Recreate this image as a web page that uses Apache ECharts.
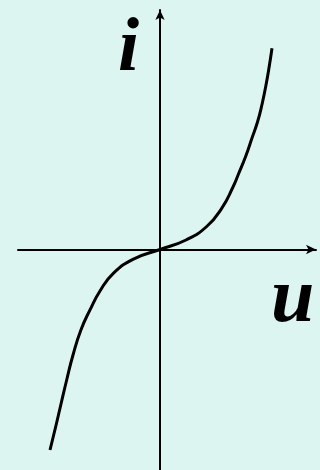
<!DOCTYPE html>
<html>
<head>
<meta charset="utf-8">
<script src="https://cdn.jsdelivr.net/npm/echarts@6/dist/echarts.min.js"></script>
<style>
  html, body { margin: 0; padding: 0; background: #ddf5f1; }
  #chart { width: 320px; height: 470px; }
</style>
</head>
<body>
<div id="chart"></div>
<script>
// u-i characteristic (arbitrary units)
var uValues = [-1.10, -1.045, -0.99, -0.932, -0.87, -0.79, -0.70, -0.60, -0.467, -0.26, 0,
               0.26, 0.467, 0.62, 0.73, 0.783, 0.86, 0.92, 0.975, 1.02, 1.06, 1.093, 1.12];
var iValues = [-2.005, -1.78, -1.545, -1.30, -1.055, -0.803, -0.604, -0.415, -0.238, -0.093, 0,
               0.095, 0.23, 0.417, 0.625, 0.75, 0.94, 1.115, 1.275, 1.45, 1.645, 1.835, 2.012];
var axisNames = ['u', 'i'];

var points = uValues.map(function (u, k) { return [u, iValues[k]]; });

var chart = echarts.init(document.getElementById('chart'), null, { renderer: 'canvas' });
chart.setOption({
    backgroundColor: '#ddf5f1',
    animation: false,
    grid: { left: 18, right: 4, top: 10, bottom: 0 },
    xAxis: {
        type: 'value',
        min: -1.42,
        max: 1.56,
        axisLine: {
            onZero: true,
            symbol: ['none', 'arrow'],
            symbolSize: [7, 10],
            lineStyle: { color: '#000', width: 2 }
        },
        axisTick: { show: false },
        axisLabel: { show: false },
        splitLine: { show: false }
    },
    yAxis: {
        type: 'value',
        min: -2.205,
        max: 2.395,
        axisLine: {
            onZero: true,
            symbol: ['none', 'arrow'],
            symbolSize: [7, 10],
            lineStyle: { color: '#000', width: 2 }
        },
        axisTick: { show: false },
        axisLabel: { show: false },
        splitLine: { show: false }
    },
    graphic: [
        {
            type: 'text', left: 118, top: 12,
            style: { text: axisNames[1], font: 'italic bold 76px "Liberation Serif"', fill: '#000' }
        },
        {
            type: 'text', left: 271, top: 262,
            style: { text: axisNames[0], font: 'italic bold 78px "Liberation Serif"', fill: '#000' }
        }
    ],
    series: [{
        type: 'line',
        data: points,
        smooth: 0.5,
        showSymbol: false,
        lineStyle: { color: '#000', width: 3 }
    }]
});
</script>
</body>
</html>
